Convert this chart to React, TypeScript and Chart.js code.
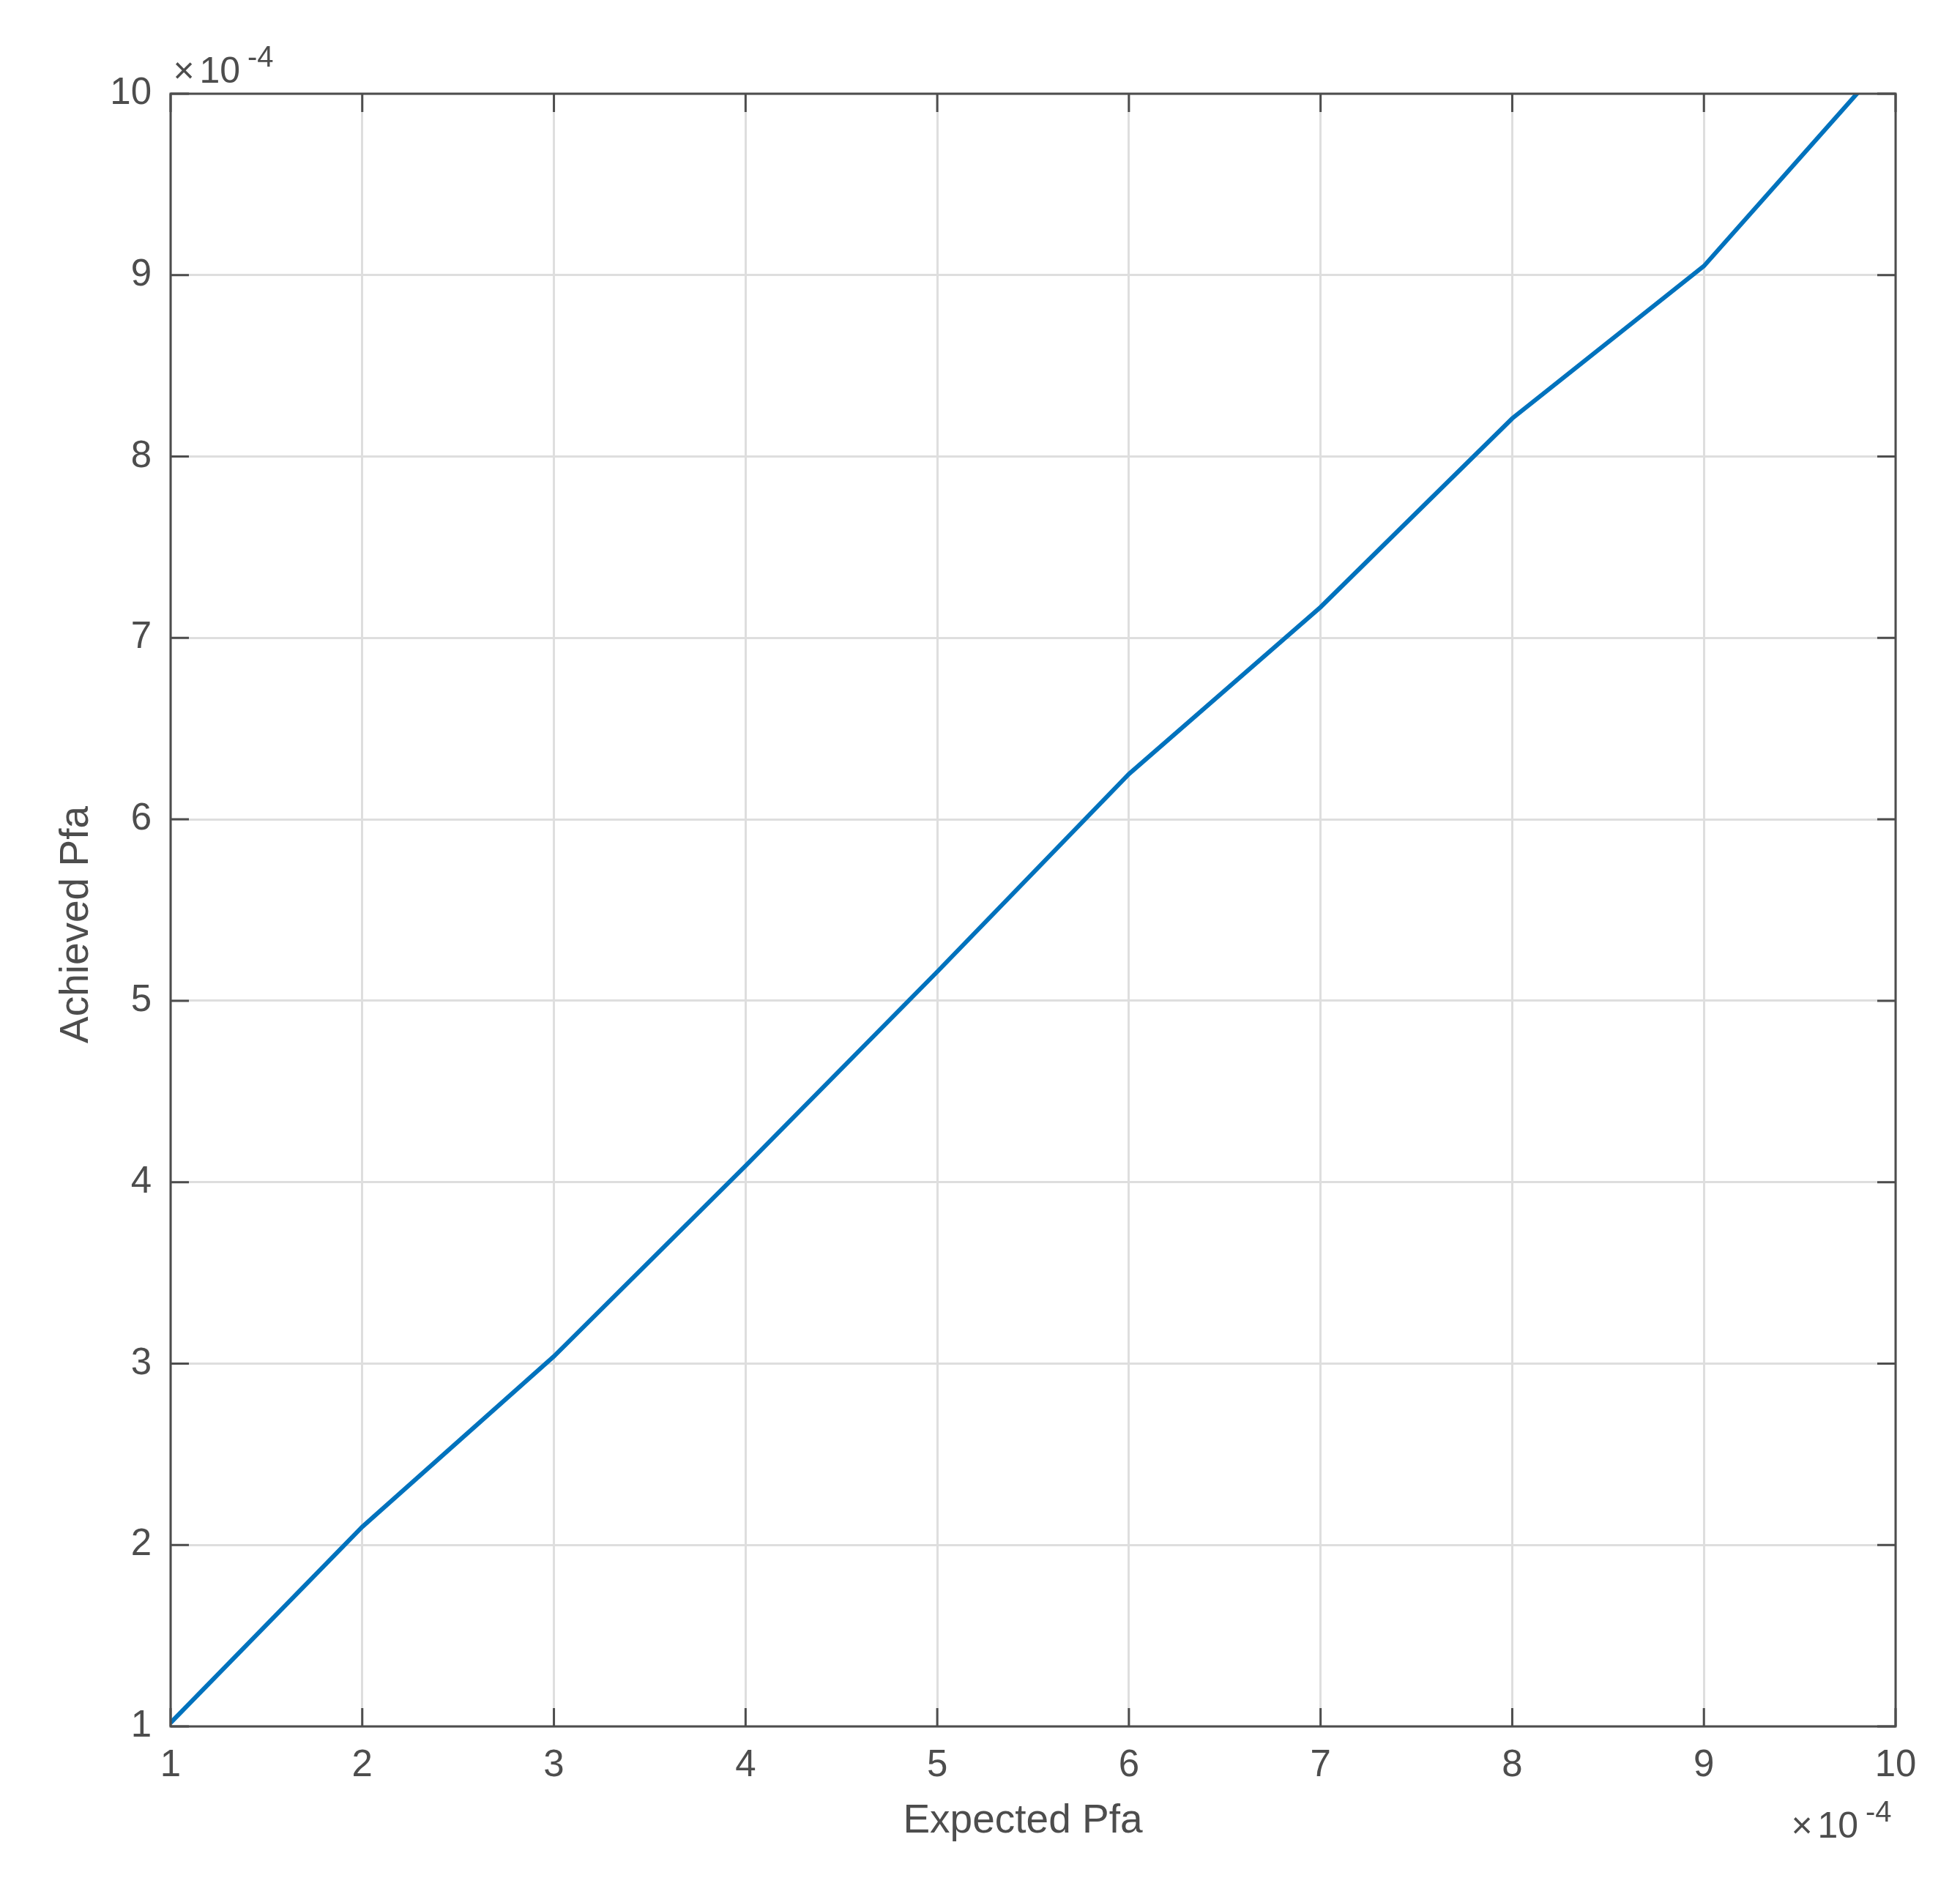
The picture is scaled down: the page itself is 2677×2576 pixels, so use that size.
import React, { useEffect, useRef } from "react";
import { Chart, registerables } from "chart.js";

Chart.register(...registerables);

// ---- data (values in units of 1e-4) ----
const expectedPfa: number[] = [1, 2, 3, 4, 5, 6, 7, 8, 9, 10];
const achievedPfa: number[] = [1.02, 2.1, 3.04, 4.09, 5.16, 6.25, 7.17, 8.21, 9.05, 10.24];
const xTickValues: number[] = [1, 2, 3, 4, 5, 6, 7, 8, 9, 10];
const yTickValues: number[] = [1, 2, 3, 4, 5, 6, 7, 8, 9, 10];
const exponentText = "-4";
const xTitle = "Expected Pfa";
const yTitle = "Achieved Pfa";

const W = 2677;
const H = 2576;
const AXIS_COLOR = "#4d4d4d";
const GRID_COLOR = "#dedede";
const LINE_COLOR = "#0072BD";
const FONT = "'Liberation Sans', Arial, Helvetica, sans-serif";
const TICK_LEN = 25;

const matlabAxes = {
  id: "matlabAxes",
  afterDraw(chart: any) {
    const { ctx, chartArea } = chart;
    const { left, right, top, bottom } = chartArea;
    const xs = chart.scales.x;
    const ys = chart.scales.y;
    ctx.save();
    ctx.strokeStyle = AXIS_COLOR;
    ctx.lineWidth = 3;
    ctx.lineCap = "butt";
    ctx.beginPath();
    xTickValues.forEach((v) => {
      const px = xs.getPixelForValue(v);
      ctx.moveTo(px, bottom);
      ctx.lineTo(px, bottom - TICK_LEN);
      ctx.moveTo(px, top);
      ctx.lineTo(px, top + TICK_LEN);
    });
    yTickValues.forEach((v) => {
      const py = ys.getPixelForValue(v);
      ctx.moveTo(left, py);
      ctx.lineTo(left + TICK_LEN, py);
      ctx.moveTo(right, py);
      ctx.lineTo(right - TICK_LEN, py);
    });
    ctx.stroke();
    ctx.strokeRect(left, top, right - left, bottom - top);

    // exponent labels
    ctx.fillStyle = AXIS_COLOR;
    ctx.textBaseline = "alphabetic";
    ctx.textAlign = "left";
    const drawExp = (x0: number, base: number) => {
      ctx.font = `50px ${FONT}`;
      ctx.fillText("\u00d7", x0, base);
      ctx.fillText("10", x0 + 36, base);
      ctx.font = `40px ${FONT}`;
      ctx.fillText(exponentText, x0 + 101.5, base - 21.6);
    };
    drawExp(left + 3.5, top - 15);
    drawExp(right - 142.5, bottom + 152);

    // axis titles
    ctx.font = `55px ${FONT}`;
    ctx.textAlign = "center";
    ctx.fillText(xTitle, (left + right) / 2 - 14, bottom + 145);
    ctx.save();
    ctx.translate(120, (top + bottom) / 2 + 20);
    ctx.rotate(-Math.PI / 2);
    ctx.fillText(yTitle, 0, 0);
    ctx.restore();

    ctx.restore();
  },
};

export default function App() {
  const canvasRef = useRef<HTMLCanvasElement | null>(null);

  useEffect(() => {
    const canvas = canvasRef.current;
    if (!canvas) return;
    const chart = new Chart(canvas, {
      type: "line",
      data: {
        datasets: [
          {
            data: expectedPfa.map((x, i) => ({ x, y: achievedPfa[i] })),
            borderColor: LINE_COLOR,
            borderWidth: 6,
            pointRadius: 0,
            tension: 0,
            fill: false,
          },
        ],
      },
      options: {
        animation: false,
        responsive: false,
        devicePixelRatio: 1,
        layout: { padding: { top: 128, right: 88, bottom: 0, left: 0 } },
        plugins: {
          legend: { display: false },
          tooltip: { enabled: false },
        },
        scales: {
          x: {
            type: "linear",
            min: 1,
            max: 10,
            afterFit: (s: any) => {
              s.height = 218;
            },
            afterBuildTicks: (s: any) => {
              s.ticks = xTickValues.map((v) => ({ value: v }));
            },
            grid: { color: GRID_COLOR, lineWidth: 3, drawTicks: false },
            border: { display: false },
            ticks: {
              color: AXIS_COLOR,
              font: { family: FONT, size: 51 },
              padding: 23,
              maxRotation: 0,
              autoSkip: false,
            },
          },
          y: {
            type: "linear",
            min: 1,
            max: 10,
            afterFit: (s: any) => {
              s.width = 233;
            },
            afterBuildTicks: (s: any) => {
              s.ticks = yTickValues.map((v) => ({ value: v }));
            },
            grid: { color: GRID_COLOR, lineWidth: 3, drawTicks: false },
            border: { display: false },
            ticks: {
              color: AXIS_COLOR,
              font: { family: FONT, size: 51 },
              padding: 26,
              autoSkip: false,
            },
          },
        },
      },
      plugins: [matlabAxes],
    } as any);
    return () => chart.destroy();
  }, []);

  return (
    <div style={{ position: "fixed", left: 0, top: 0, width: W, height: H, background: "#fff" }}>
      <canvas ref={canvasRef} width={W} height={H} style={{ width: W, height: H, display: "block" }} />
    </div>
  );
}
